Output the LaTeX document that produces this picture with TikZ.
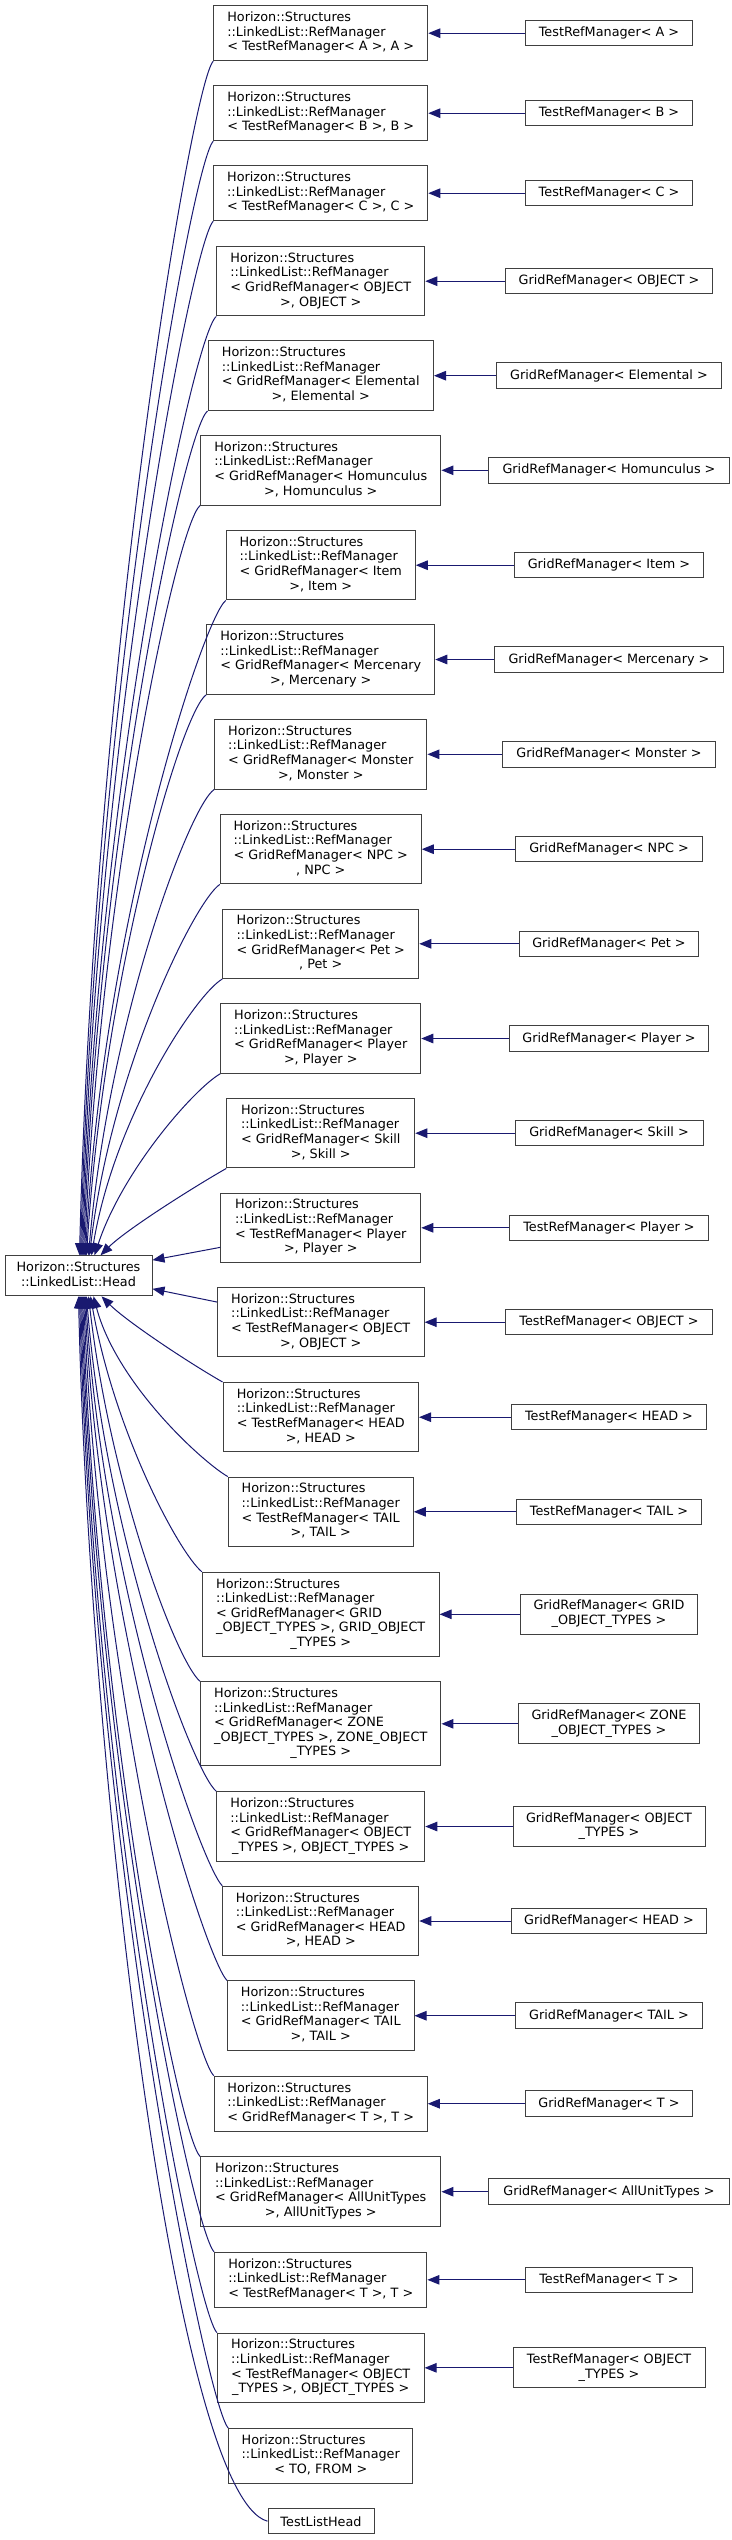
\documentclass[tikz,border=0pt]{standalone}
\usepackage{fontspec}
\setmainfont{DejaVu Sans}
\usetikzlibrary{arrows.meta, calc}

\definecolor{edgeblue}{RGB}{25,25,112}
\definecolor{boxgray}{RGB}{64,64,64}
\newcommand{\cellstack}[1]{\begin{tabular}{@{}l@{}}#1\end{tabular}}
\newcommand{\lastrow}[1]{\multicolumn{1}{@{}c@{}}{#1}}

\begin{document}
\begin{tikzpicture}[x=1pt, y=1pt,
    every node/.style={draw=boxgray, line width=1pt, inner xsep=4pt, inner ysep=2pt,
      font=\fontsize{12.8}{14.6}\selectfont},
    lines1/.style={minimum height=25.5pt},
    lines2/.style={minimum height=40pt},
    lines3/.style={minimum height=55pt},
    lines4/.style={minimum height=69.5pt},
    lines5/.style={minimum height=84pt},
    inherit/.style={draw=edgeblue, line width=1pt, -{Triangle[length=12pt, width=9.5pt]}}]

      \useasboundingbox (0,0) rectangle (731,-2540);

      % Base class
      \node (head) [minimum width=147pt, lines2] at (78.5,-1275.8) {\cellstack{Horizon::Structures\\\lastrow{::LinkedList::Head}}};

      % RefManager specialisations - middle column
      \node (rm1) [minimum width=214pt, lines3] at (320.75,-33.2) {\cellstack{Horizon::Structures\\::LinkedList::RefManager\\< TestRefManager< A >, A >}};
      \node (rm2) [minimum width=214pt, lines3] at (320.75,-113.2) {\cellstack{Horizon::Structures\\::LinkedList::RefManager\\< TestRefManager< B >, B >}};
      \node (rm3) [minimum width=214pt, lines3] at (320.75,-193.2) {\cellstack{Horizon::Structures\\::LinkedList::RefManager\\< TestRefManager< C >, C >}};
      \node (rm4) [minimum width=208pt, lines4] at (320.75,-281.2) {\cellstack{Horizon::Structures\\::LinkedList::RefManager\\< GridRefManager< OBJECT\\\lastrow{>, OBJECT >}}};
      \node (rm5) [minimum width=225.5pt, lines4] at (320.75,-375.7) {\cellstack{Horizon::Structures\\::LinkedList::RefManager\\< GridRefManager< Elemental\\\lastrow{>, Elemental >}}};
      \node (rm6) [minimum width=240.4pt, lines4] at (320.75,-470.3) {\cellstack{Horizon::Structures\\::LinkedList::RefManager\\< GridRefManager< Homunculus\\\lastrow{>, Homunculus >}}};
      \node (rm7) [minimum width=189pt, lines4] at (320.75,-565.2) {\cellstack{Horizon::Structures\\::LinkedList::RefManager\\< GridRefManager< Item\\\lastrow{>, Item >}}};
      \node (rm8) [minimum width=228pt, lines4] at (320.75,-659.5) {\cellstack{Horizon::Structures\\::LinkedList::RefManager\\< GridRefManager< Mercenary\\\lastrow{>, Mercenary >}}};
      \node (rm9) [minimum width=212.3pt, lines4] at (320.75,-754.3) {\cellstack{Horizon::Structures\\::LinkedList::RefManager\\< GridRefManager< Monster\\\lastrow{>, Monster >}}};
      \node (rm10) [minimum width=201pt, lines4] at (320.75,-849.2) {\cellstack{Horizon::Structures\\::LinkedList::RefManager\\< GridRefManager< NPC >\\\lastrow{, NPC >}}};
      \node (rm11) [minimum width=196pt, lines4] at (320.75,-943.8) {\cellstack{Horizon::Structures\\::LinkedList::RefManager\\< GridRefManager< Pet >\\\lastrow{, Pet >}}};
      \node (rm12) [minimum width=200pt, lines4] at (320.75,-1038.5) {\cellstack{Horizon::Structures\\::LinkedList::RefManager\\< GridRefManager< Player\\\lastrow{>, Player >}}};
      \node (rm13) [minimum width=188pt, lines4] at (320.75,-1133.2) {\cellstack{Horizon::Structures\\::LinkedList::RefManager\\< GridRefManager< Skill\\\lastrow{>, Skill >}}};
      \node (rm14) [minimum width=200pt, lines4] at (320.75,-1227.8) {\cellstack{Horizon::Structures\\::LinkedList::RefManager\\< TestRefManager< Player\\\lastrow{>, Player >}}};
      \node (rm15) [minimum width=206.7pt, lines4] at (320.75,-1322.2) {\cellstack{Horizon::Structures\\::LinkedList::RefManager\\< TestRefManager< OBJECT\\\lastrow{>, OBJECT >}}};
      \node (rm16) [minimum width=195.5pt, lines4] at (320.75,-1417.2) {\cellstack{Horizon::Structures\\::LinkedList::RefManager\\< TestRefManager< HEAD\\\lastrow{>, HEAD >}}};
      \node (rm17) [minimum width=185pt, lines4] at (320.75,-1511.8) {\cellstack{Horizon::Structures\\::LinkedList::RefManager\\< TestRefManager< TAIL\\\lastrow{>, TAIL >}}};
      \node (rm18) [minimum width=236.7pt, lines5] at (320.75,-1614.3) {\cellstack{Horizon::Structures\\::LinkedList::RefManager\\< GridRefManager< GRID\\\_OBJECT\_TYPES >, GRID\_OBJECT\\\lastrow{\_TYPES >}}};
      \node (rm19) [minimum width=240.4pt, lines5] at (320.75,-1723.8) {\cellstack{Horizon::Structures\\::LinkedList::RefManager\\< GridRefManager< ZONE\\\_OBJECT\_TYPES >, ZONE\_OBJECT\\\lastrow{\_TYPES >}}};
      \node (rm20) [minimum width=208pt, lines4] at (320.75,-1826.5) {\cellstack{Horizon::Structures\\::LinkedList::RefManager\\< GridRefManager< OBJECT\\\lastrow{\_TYPES >, OBJECT\_TYPES >}}};
      \node (rm21) [minimum width=196pt, lines4] at (320.75,-1921) {\cellstack{Horizon::Structures\\::LinkedList::RefManager\\< GridRefManager< HEAD\\\lastrow{>, HEAD >}}};
      \node (rm22) [minimum width=186.5pt, lines4] at (320.75,-2015.7) {\cellstack{Horizon::Structures\\::LinkedList::RefManager\\< GridRefManager< TAIL\\\lastrow{>, TAIL >}}};
      \node (rm23) [minimum width=213pt, lines3] at (320.75,-2103.7) {\cellstack{Horizon::Structures\\::LinkedList::RefManager\\< GridRefManager< T >, T >}};
      \node (rm24) [minimum width=240.4pt, lines4] at (320.75,-2191.7) {\cellstack{Horizon::Structures\\::LinkedList::RefManager\\< GridRefManager< AllUnitTypes\\\lastrow{>, AllUnitTypes >}}};
      \node (rm25) [minimum width=212.3pt, lines3] at (320.75,-2279.8) {\cellstack{Horizon::Structures\\::LinkedList::RefManager\\< TestRefManager< T >, T >}};
      \node (rm26) [minimum width=206.7pt, lines4] at (320.75,-2367.8) {\cellstack{Horizon::Structures\\::LinkedList::RefManager\\< TestRefManager< OBJECT\\\lastrow{\_TYPES >, OBJECT\_TYPES >}}};
      \node (rm27) [minimum width=184pt, lines3] at (320.75,-2456) {\cellstack{Horizon::Structures\\::LinkedList::RefManager\\\lastrow{< TO, FROM >}}};
      \node (tlh) [minimum width=106pt, lines1] at (321,-2521.2) {TestListHead};

      % Managers - right column
      \node (mgr1) [minimum width=167.3pt, lines1] at (609,-33.2) {TestRefManager< A >};
      \node (mgr2) [minimum width=167.3pt, lines1] at (609,-113.2) {TestRefManager< B >};
      \node (mgr3) [minimum width=167.3pt, lines1] at (609,-193.2) {TestRefManager< C >};
      \node (mgr4) [minimum width=207.5pt, lines1] at (609,-281.2) {GridRefManager< OBJECT >};
      \node (mgr5) [minimum width=225.8pt, lines1] at (609,-375.7) {GridRefManager< Elemental >};
      \node (mgr6) [minimum width=240.4pt, lines1] at (609,-470.3) {GridRefManager< Homunculus >};
      \node (mgr7) [minimum width=189.8pt, lines1] at (609,-565.2) {GridRefManager< Item >};
      \node (mgr8) [minimum width=228.2pt, lines1] at (609,-659.5) {GridRefManager< Mercenary >};
      \node (mgr9) [minimum width=212.3pt, lines1] at (609,-754.3) {GridRefManager< Monster >};
      \node (mgr10) [minimum width=187pt, lines1] at (609,-849.2) {GridRefManager< NPC >};
      \node (mgr11) [minimum width=179.5pt, lines1] at (609,-943.8) {GridRefManager< Pet >};
      \node (mgr12) [minimum width=199.6pt, lines1] at (609,-1038.5) {GridRefManager< Player >};
      \node (mgr13) [minimum width=188pt, lines1] at (609,-1133.2) {GridRefManager< Skill >};
      \node (mgr14) [minimum width=199.6pt, lines1] at (609,-1227.8) {TestRefManager< Player >};
      \node (mgr15) [minimum width=206.7pt, lines1] at (609,-1322.2) {TestRefManager< OBJECT >};
      \node (mgr16) [minimum width=195.5pt, lines1] at (609,-1417.2) {TestRefManager< HEAD >};
      \node (mgr17) [minimum width=185.5pt, lines1] at (609,-1511.8) {TestRefManager< TAIL >};
      \node (mgr18) [minimum width=177.6pt, lines2] at (609,-1614.3) {\cellstack{GridRefManager< GRID\\\lastrow{\_OBJECT\_TYPES >}}};
      \node (mgr19) [minimum width=181.3pt, lines2] at (609,-1723.8) {\cellstack{GridRefManager< ZONE\\\lastrow{\_OBJECT\_TYPES >}}};
      \node (mgr20) [minimum width=192pt, lines2] at (609,-1826.5) {\cellstack{GridRefManager< OBJECT\\\lastrow{\_TYPES >}}};
      \node (mgr21) [minimum width=195.5pt, lines1] at (609,-1921) {GridRefManager< HEAD >};
      \node (mgr22) [minimum width=187pt, lines1] at (609,-2015.7) {GridRefManager< TAIL >};
      \node (mgr23) [minimum width=167.3pt, lines1] at (609,-2103.7) {GridRefManager< T >};
      \node (mgr24) [minimum width=240.4pt, lines1] at (609,-2191.7) {GridRefManager< AllUnitTypes >};
      \node (mgr25) [minimum width=166.3pt, lines1] at (609,-2279.8) {TestRefManager< T >};
      \node (mgr26) [minimum width=192pt, lines2] at (609,-2367.8) {\cellstack{TestRefManager< OBJECT\\\lastrow{\_TYPES >}}};

      % Managers inherit from RefManager
      \draw[inherit] (mgr1) -- (rm1);
      \draw[inherit] (mgr2) -- (rm2);
      \draw[inherit] (mgr3) -- (rm3);
      \draw[inherit] (mgr4) -- (rm4);
      \draw[inherit] (mgr5) -- (rm5);
      \draw[inherit] (mgr6) -- (rm6);
      \draw[inherit] (mgr7) -- (rm7);
      \draw[inherit] (mgr8) -- (rm8);
      \draw[inherit] (mgr9) -- (rm9);
      \draw[inherit] (mgr10) -- (rm10);
      \draw[inherit] (mgr11) -- (rm11);
      \draw[inherit] (mgr12) -- (rm12);
      \draw[inherit] (mgr13) -- (rm13);
      \draw[inherit] (mgr14) -- (rm14);
      \draw[inherit] (mgr15) -- (rm15);
      \draw[inherit] (mgr16) -- (rm16);
      \draw[inherit] (mgr17) -- (rm17);
      \draw[inherit] (mgr18) -- (rm18);
      \draw[inherit] (mgr19) -- (rm19);
      \draw[inherit] (mgr20) -- (rm20);
      \draw[inherit] (mgr21) -- (rm21);
      \draw[inherit] (mgr22) -- (rm22);
      \draw[inherit] (mgr23) -- (rm23);
      \draw[inherit] (mgr24) -- (rm24);
      \draw[inherit] (mgr25) -- (rm25);
      \draw[inherit] (mgr26) -- (rm26);

      % RefManagers inherit from Head - upper half
      \draw[inherit] (rm1.south west) .. controls ($(rm1.south west)+(-21,-21)$) and ($(head.north)+(16,598)$) .. ([xshift=1pt]head.north);
      \draw[inherit] (rm2.south west) .. controls ($(rm2.south west)+(-21,-21)$) and ($(head.north)+(17,558)$) .. ([xshift=2pt]head.north);
      \draw[inherit] (rm3.south west) .. controls ($(rm3.south west)+(-21,-21)$) and ($(head.north)+(18,518)$) .. ([xshift=3pt]head.north);
      \draw[inherit] (rm4.south west) .. controls ($(rm4.south west)+(-23,-19)$) and ($(head.north)+(19,470)$) .. ([xshift=4pt]head.north);
      \draw[inherit] (rm5.south west) .. controls ($(rm5.south west)+(-23,-19)$) and ($(head.north)+(20,423)$) .. ([xshift=5pt]head.north);
      \draw[inherit] (rm6.south west) .. controls ($(rm6.south west)+(-23,-19)$) and ($(head.north)+(22,375)$) .. ([xshift=6pt]head.north);
      \draw[inherit] (rm7.south west) .. controls ($(rm7.south west)+(-23,-19)$) and ($(head.north)+(24,328)$) .. ([xshift=7pt]head.north);
      \draw[inherit] (rm8.south west) .. controls ($(rm8.south west)+(-25,-17)$) and ($(head.north)+(26,281)$) .. ([xshift=8pt]head.north);
      \draw[inherit] (rm9.south west) .. controls ($(rm9.south west)+(-25,-17)$) and ($(head.north)+(30,233)$) .. ([xshift=10pt]head.north);
      \draw[inherit] (rm10.south west) .. controls ($(rm10.south west)+(-25,-17)$) and ($(head.north)+(33,186)$) .. ([xshift=11pt]head.north);
      \draw[inherit] (rm11.south west) .. controls ($(rm11.south west)+(-26,-15)$) and ($(head.north)+(36,139)$) .. ([xshift=13pt]head.north);
      \draw[inherit] (rm12.south west) .. controls ($(rm12.south west)+(-26,-15)$) and ($(head.north)+(44,85)$) .. ([xshift=16pt]head.north);
      \draw[inherit] (rm13.south west) .. controls ($(rm13.south west)+(-35,-20)$) and ($(head.north)+(47,25)$) .. ([xshift=22pt]head.north);
      \draw[inherit] (rm14.191) -- (head.12);
      \draw[inherit] (rm15.169) -- (head.-10);

      % RefManagers inherit from Head - lower half
      \draw[inherit] (rm16.north west) .. controls ($(rm16.north west)+(-35,20)$) and ($(head.south)+(48,-25)$) .. ([xshift=23pt]head.south);
      \draw[inherit] (rm17.north west) .. controls ($(rm17.north west)+(-26,15)$) and ($(head.south)+(38,-87)$) .. ([xshift=15pt]head.south);
      \draw[inherit] (rm18.north west) .. controls ($(rm18.north west)+(-23,19)$) and ($(head.south)+(36,-136)$) .. ([xshift=12pt]head.south);
      \draw[inherit] (rm19.north west) .. controls ($(rm19.north west)+(-23,19)$) and ($(head.south)+(32,-191)$) .. ([xshift=10pt]head.south);
      \draw[inherit] (rm20.north west) .. controls ($(rm20.north west)+(-23,19)$) and ($(head.south)+(28,-246)$) .. ([xshift=8pt]head.south);
      \draw[inherit] (rm21.north west) .. controls ($(rm21.north west)+(-21,21)$) and ($(head.south)+(25,-293)$) .. ([xshift=7pt]head.south);
      \draw[inherit] (rm22.north west) .. controls ($(rm22.north west)+(-21,21)$) and ($(head.south)+(23,-341)$) .. ([xshift=6pt]head.south);
      \draw[inherit] (rm23.north west) .. controls ($(rm23.north west)+(-21,21)$) and ($(head.south)+(21,-388)$) .. ([xshift=5pt]head.south);
      \draw[inherit] (rm24.north west) .. controls ($(rm24.north west)+(-21,21)$) and ($(head.south)+(19,-430)$) .. ([xshift=4pt]head.south);
      \draw[inherit] (rm25.north west) .. controls ($(rm25.north west)+(-21,21)$) and ($(head.south)+(18,-477)$) .. ([xshift=3pt]head.south);
      \draw[inherit] (rm26.north west) .. controls ($(rm26.north west)+(-21,21)$) and ($(head.south)+(17,-518)$) .. ([xshift=2pt]head.south);
      \draw[inherit] (rm27.north west) .. controls ($(rm27.north west)+(-21,21)$) and ($(head.south)+(16,-565)$) .. ([xshift=1pt]head.south);
      \draw[inherit] (tlh.west) .. controls ($(tlh.west)+(-95,26)$) and ($(head.south)+(10,-450)$) .. (head.south);

\end{tikzpicture}
\end{document}
